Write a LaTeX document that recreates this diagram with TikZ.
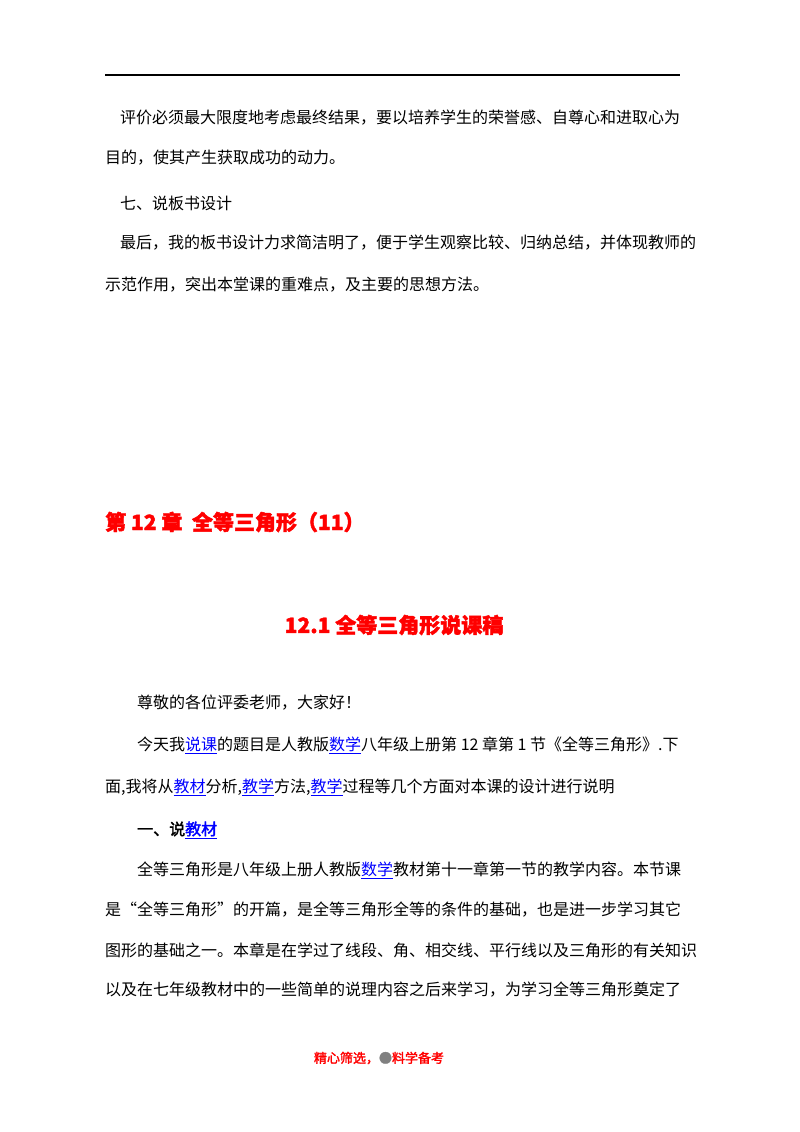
\documentclass[tikz,border=0pt]{standalone}
\usepackage{fontspec}
\setmainfont{Noto Sans CJK SC}
\newfontfamily\cjkb[FakeBold=2]{Noto Sans CJK SC}
\newcommand{\lk}[1]{{\color{blue}\underline{#1}}}
\begin{document}
\begin{tikzpicture}[x=1pt,y=-1pt,
  body/.style={anchor=west,inner sep=0pt,font=\fontsize{16}{16}\selectfont},
  head/.style={anchor=west,inner sep=0pt,text=red,font=\fontsize{21}{21}\selectfont\bfseries}]
\useasboundingbox (0,0) rectangle (800,1132);
\fill[white] (0,0) rectangle (800,1132);
\draw[line width=1.2pt] (105,75) -- (680,75);
\node[body] (l1) at (120,118) {评价必须最大限度地考虑最终结果，要以培养学生的荣誉感、自尊心和进取心为};
\node[body] (l2) at (105,158) {目的，使其产生获取成功的动力。};
\node[body] (l3) at (120,203) {七、说板书设计};
\node[body] (l4) at (120,243) {最后，我的板书设计力求简洁明了，便于学生观察比较、归纳总结，并体现教师的};
\node[body] (l5) at (105,285) {示范作用，突出本堂课的重难点，及主要的思想方法。};
\node[head] (h1) at (105,522) {\cjkb 第 12 章\ \ 全等三角形（11）};
\node[head,anchor=center] (h2) at (394,625) {\cjkb 12.1 全等三角形说课稿};
\node[body] (p1) at (137,703) {尊敬的各位评委老师，大家好！};
\node[body] (p2) at (137,745) {今天我\lk{说课}的题目是人教版\lk{数学}八年级上册第 12 章第 1 节《全等三角形》.下};
\node[body] (p3) at (105,787) {面,我将从\lk{教材}分析,\lk{教学}方法,\lk{教学}过程等几个方面对本课的设计进行说明};
\node[body] (p4) at (137,830) {\cjkb 一、说\lk{教材}};
\node[body] (p5) at (137,870) {全等三角形是八年级上册人教版\lk{数学}教材第十一章第一节的教学内容。本节课};
\node[body] (p6) at (105,910) {是“全等三角形”的开篇，是全等三角形全等的条件的基础，也是进一步学习其它};
\node[body] (p7) at (105,950) {图形的基础之一。本章是在学过了线段、角、相交线、平行线以及三角形的有关知识};
\node[body] (p8) at (105,990) {以及在七年级教材中的一些简单的说理内容之后来学习，为学习全等三角形奠定了};
\node[body,anchor=center,text=red,font=\fontsize{13}{13}\selectfont] (f) at (379,1058) {\cjkb 精心筛选，\textcolor{gray}{●}料学备考};
\end{tikzpicture}
\end{document}
